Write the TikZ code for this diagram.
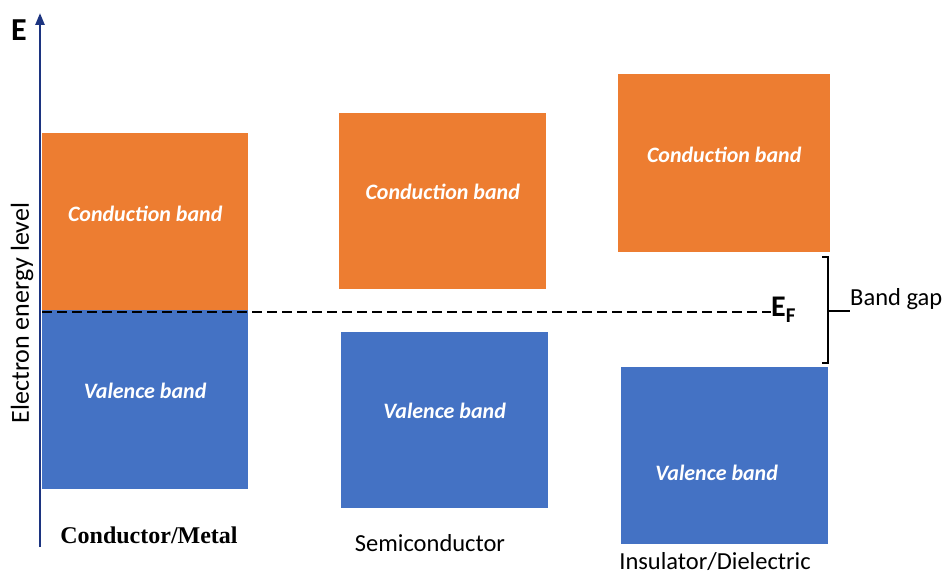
\documentclass[tikz,border=0pt]{standalone}
\usepackage{fontspec}
\setmainfont{Carlito}
\newfontfamily\timesbold{Liberation Serif}
\definecolor{cband}{RGB}{237,125,49}
\definecolor{vband}{RGB}{68,114,196}
\definecolor{axisblue}{RGB}{28,52,128}
\usetikzlibrary{arrows.meta, positioning}

\begin{document}
\begin{tikzpicture}[x=1pt, y=-1pt,
  band/.style={anchor=north west, inner sep=0pt, minimum height=177pt},
  bandtext/.style={text=white, font=\fontsize{22}{24}\selectfont\bfseries\itshape},
  caption/.style={font=\fontsize{24.5}{26}\selectfont}]
  \useasboundingbox (0,0) rectangle (949,577);

  % energy axis
  \coordinate (ax0) at (40,547);
  \coordinate (ax1) at (40,13);
  \draw[axisblue, line width=2.5pt, -{Triangle[width=9pt,length=12pt]}] (ax0) -- (ax1);
  \node[font=\fontsize{32}{34}\selectfont\bfseries] (E) at (19,30) {E};
  \node[caption, font=\fontsize{26}{28}\selectfont, rotate=90] (elevel) at (22,313) {Electron energy level};

  % conductor / metal
  \node[band, fill=cband, minimum width=206pt] (cb1) at (42,133) {};
  \node[band, fill=vband, minimum width=206pt, minimum height=179pt] (vb1) at (42,310) {};
  \node[bandtext] (cbt1) at ([yshift=8pt]cb1.center) {Conduction band};
  \node[bandtext] (vbt1) at ([yshift=9pt]vb1.center) {Valence band};

  % semiconductor
  \node[band, fill=cband, minimum width=207pt, minimum height=176pt] (cb2) at (339,113) {};
  \node[band, fill=vband, minimum width=207pt, minimum height=176pt] (vb2) at (341,332) {};
  \node[bandtext] (cbt2) at ([yshift=9pt]cb2.center) {Conduction band};
  \node[bandtext] (vbt2) at ([yshift=9pt]vb2.center) {Valence band};

  % insulator / dielectric
  \node[band, fill=cband, minimum width=212pt, minimum height=178pt] (cb3) at (618,74) {};
  \node[band, fill=vband, minimum width=207pt] (vb3) at (621,367) {};
  \node[bandtext] (cbt3) at ([yshift=8pt]cb3.center) {Conduction band};
  \node[bandtext] (vbt3) at ([xshift=-8pt, yshift=-17pt]vb3.center) {Valence band};

  % Fermi level
  \node[anchor=base west, inner sep=0pt, font=\fontsize{30}{32}\selectfont\bfseries] (EF) at (771,316)
    {E\raisebox{-6pt}{\fontsize{21}{22}\selectfont F}};
  \coordinate (ef0) at (42,312);
  \draw[line width=2.6pt, dash pattern=on 10pt off 5pt] (ef0) -- (ef0 -| EF.west);

  % band gap bracket
  \node[caption, anchor=west, inner sep=0pt] (gap) at (850,299) {Band gap};
  \coordinate (brtop) at (822,257);
  \coordinate (brmid) at (828,311);
  \draw[line width=1.8pt] (brtop) -- ++(6,0) -- ++(0,106) -- ++(-6,0);
  \draw[line width=1.8pt] (brmid) -- (brmid -| gap.west);

  % captions
  \node[font=\timesbold\fontsize{24}{26}\selectfont\bfseries] (cap1) at (149,535) {Conductor/Metal};
  \node[caption] (cap2) at (430,543) {Semiconductor};
  \node[caption, inner sep=0pt] (cap3) at (715,562) {Insulator/Dielectric};
\end{tikzpicture}
\end{document}
